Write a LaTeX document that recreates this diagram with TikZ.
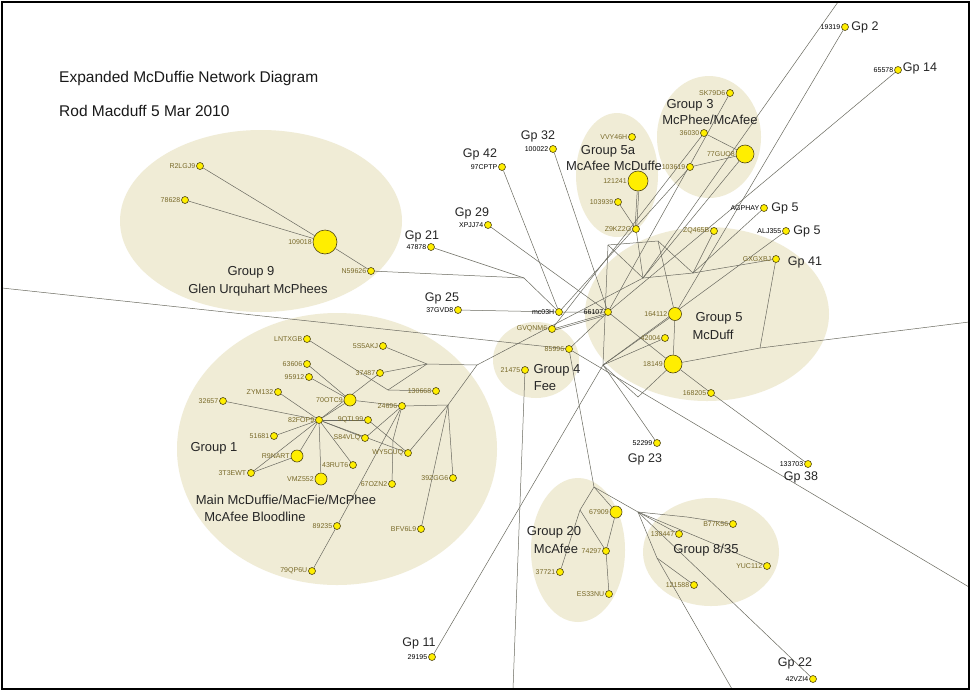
\documentclass[tikz,border=0pt]{standalone}
\usepackage{fontspec}
\setmainfont{Liberation Sans}
\pgfdeclarelayer{bg}
\pgfdeclarelayer{edges}
\pgfsetlayers{bg,edges,main}
\definecolor{grp}{RGB}{240,236,214}
\definecolor{ln}{RGB}{105,105,95}
\definecolor{olv}{RGB}{120,105,40}
\definecolor{nodefill}{RGB}{255,238,0}
\definecolor{nodeline}{RGB}{80,70,20}
\tikzset{
  nd/.style={circle,fill=nodefill,draw=nodeline,line width=0.6pt,inner sep=0pt,minimum size=#1},
  nd/.default=7pt,
  idl/.style={font=\fontsize{7}{8}\selectfont,text=olv,inner sep=0.8pt},
  idk/.style={font=\fontsize{7}{8}\selectfont,text=black,inner sep=0.8pt},
  glab/.style={font=\fontsize{13}{15}\selectfont,text=black!85,inner sep=0pt},
  gplab/.style={font=\fontsize{12.5}{14}\selectfont,text=black!85,inner sep=0pt},
  ttl/.style={font=\fontsize{15.5}{18}\selectfont,text=black!90,inner sep=0pt,anchor=west},
  edge/.style={draw=ln,line width=0.5pt},
}
\begin{document}
\begin{tikzpicture}[x=1pt,y=-1pt]
\useasboundingbox (0,0) rectangle (971,691);
% group ellipses
\begin{pgfonlayer}{bg}
\fill[white] (0,0) rectangle (971,691);
\fill[grp] (261,221) ellipse [x radius=141pt, y radius=91pt];
\fill[grp] (337,449) ellipse [x radius=160pt, y radius=136pt];
\fill[grp] (536,360) ellipse [x radius=43pt, y radius=38pt];
\fill[grp] (707,314) ellipse [x radius=122pt, y radius=87pt];
\fill[grp] (617,175) ellipse [x radius=41pt, y radius=62pt];
\fill[grp] (709,137) ellipse [x radius=52pt, y radius=61pt];
\fill[grp] (578,550) ellipse [x radius=47pt, y radius=72pt];
\fill[grp] (711,552) ellipse [x radius=68pt, y radius=54pt];
\end{pgfonlayer}
% titles
\node[ttl] (t1) at (59,78) {Expanded McDuffie Network Diagram};
\node[ttl] (t2) at (59,111) {Rod Macduff 5 Mar 2010};
% group labels
\node[glab] (g9a) at (251,272) {Group 9};
\node[glab] (g9b) at (258,290) {Glen Urquhart McPhees};
\node[glab] (g1a) at (214,448) {Group 1};
\node[glab] (g1b) at (286,500) {Main McDuffie/MacFie/McPhee};
\node[glab] (g1c) at (255,517) {McAfee Bloodline};
\node[glab] (g4a) at (557,370) {Group 4};
\node[glab] (g4b) at (545,386) {Fee};
\node[glab] (g5aa) at (608,151) {Group 5a};
\node[glab] (g5ab) at (614,166) {McAfee McDuffe};
\node[glab] (g3a) at (690,105) {Group 3};
\node[glab] (g3b) at (710,120) {McPhee/McAfee};
\node[glab] (g5a) at (719,318) {Group 5};
\node[glab] (g5b) at (713,335) {McDuff};
\node[glab] (g20a) at (554,532) {Group 20};
\node[glab] (g20b) at (556,549) {McAfee};
\node[glab] (g835) at (706,550) {Group 8/35};
% Gp labels
\node[gplab] (gp42) at (480,154) {Gp 42};
\node[gplab] (gp32) at (538,136) {Gp 32};
\node[gplab] (gp29) at (472,213) {Gp 29};
\node[gplab] (gp21) at (422,236) {Gp 21};
\node[gplab] (gp25) at (442,298) {Gp 25};
\node[gplab] (gp2) at (865,27) {Gp 2};
\node[gplab] (gp14) at (920,68) {Gp 14};
\node[gplab] (gp5x) at (785,208) {Gp 5};
\node[gplab] (gp5y) at (807,231) {Gp 5};
\node[gplab] (gp41) at (805,262) {Gp 41};
\node[gplab] (gp23) at (645,459) {Gp 23};
\node[gplab] (gp38) at (801,477) {Gp 38};
\node[gplab] (gp11) at (419,643) {Gp 11};
\node[gplab] (gp22) at (795,663) {Gp 22};
% nodes: group 9
\node[nd=24pt,label={[idl]left:109018}] (n109018) at (325,242) {};
\node[nd,label={[idl]left:R2LGJ9}] (nR2LGJ9) at (200,166) {};
\node[nd,label={[idl]left:78628}] (n78628) at (185,200) {};
\node[nd,label={[idl]left:N59626}] (nN59626) at (371,271) {};
% group 1
\node[nd,label={[idl]left:LNTXGB}] (nLNTXGB) at (307,339) {};
\node[nd,label={[idl]left:63606}] (n63606) at (307,364) {};
\node[nd,label={[idl]left:95912}] (n95912) at (309,377) {};
\node[nd,label={[idl]left:ZYM132}] (nZYM132) at (278,392) {};
\node[nd,label={[idl]left:32657}] (n32657) at (223,401) {};
\node[nd,label={[idl]left:82FOP9}] (n82FOP9) at (319,420) {};
\node[nd,label={[idl]left:51681}] (n51681) at (274,436) {};
\node[nd=12pt,label={[idl]left:R9NART}] (nR9NART) at (297,456) {};
\node[nd=12pt,label={[idl]left:70OTC9}] (n70OTC9) at (350,400) {};
\node[nd,label={[idl]left:5S5AKJ}] (n5S5AKJ) at (383,346) {};
\node[nd,label={[idl]left:37487}] (n37487) at (380,373) {};
\node[nd,label={[idl]left:130668}] (n130668) at (436,391) {};
\node[nd,label={[idl]left:24696}] (n24696) at (402,406) {};
\node[nd,label={[idl]left:9QTL99}] (n9QTL99) at (368,420) {};
\node[nd,label={[idl]left:S84VLQ}] (nS84VLQ) at (365,438) {};
\node[nd,label={[idl]left:WY5CUQ}] (nWY5CUQ) at (408,453) {};
\node[nd,label={[idl]left:3T3EWT}] (n3T3EWT) at (251,473) {};
\node[nd=12pt,label={[idl]left:VMZ552}] (nVMZ552) at (321,479) {};
\node[nd,label={[idl]left:43RUT6}] (n43RUT6) at (353,465) {};
\node[nd,label={[idl]left:67OZN2}] (n67OZN2) at (392,484) {};
\node[nd,label={[idl]left:39ZGG6}] (n39ZGG6) at (453,478) {};
\node[nd,label={[idl]left:89235}] (n89235) at (337,526) {};
\node[nd,label={[idl]left:BFV6L9}] (nBFV6L9) at (421,529) {};
\node[nd,label={[idl]left:79QP6U}] (n79QP6U) at (312,571) {};
% centre
\node[nd,label={[idk]left:mc03H}] (nmc03H) at (559,312) {};
\node[nd,label={[idk]left:66107}] (n66107) at (608,312) {};
\node[nd,label={[idl]left:GVQNM6}] (nGVQNM6) at (552,329) {};
\node[nd,label={[idl]left:85996}] (n85996) at (569,349) {};
\node[nd,label={[idl]left:21475}] (n21475) at (525,370) {};
\node[nd,label={[idk]left:37GVD8}] (n37GVD8) at (458,310) {};
\node[nd,label={[idk]left:47878}] (n47878) at (431,247) {};
\node[nd,label={[idk]left:XPJJ74}] (nXPJJ74) at (488,225) {};
\node[nd,label={[idk]left:97CPTP}] (n97CPTP) at (502,167) {};
\node[nd,label={[idk]left:100022}] (n100022) at (553,149) {};
% group 5a and 3
\node[nd,label={[idl]left:VVY46H}] (nVVY46H) at (632,137) {};
\node[nd=20pt,label={[idl]left:121241}] (n121241) at (638,181) {};
\node[nd,label={[idl]left:103939}] (n103939) at (618,202) {};
\node[nd,label={[idl]left:Z9KZ2G}] (nZ9KZ2G) at (636,229) {};
\node[nd,label={[idl]left:SK79D6}] (nSK79D6) at (730,93) {};
\node[nd,label={[idl]left:36030}] (n36030) at (704,133) {};
\node[nd=18pt,label={[idl]left:77GUO8}] (n77GUO8) at (745,154) {};
\node[nd,label={[idl]left:103619}] (n103619) at (690,167) {};
\node[nd,label={[idk]left:AGPHAY}] (nAGPHAY) at (764,208) {};
\node[nd,label={[idk]left:ALJ355}] (nALJ355) at (786,231) {};
\node[nd,label={[idk]left:19319}] (n19319) at (845,27) {};
\node[nd,label={[idk]left:65578}] (n65578) at (898,70) {};
% group 5
\node[nd,label={[idl]left:ZQ465B}] (nZQ465B) at (714,231) {};
\node[nd,label={[idl]left:GXGXBJ}] (nGXGXBJ) at (776,259) {};
\node[nd=13pt,label={[idl]left:164112}] (n164112) at (675,314) {};
\node[nd,label={[idl]left:42004}] (n42004) at (665,338) {};
\node[nd=18pt,label={[idl]left:18149}] (n18149) at (673,364) {};
\node[nd,label={[idl]left:168205}] (n168205) at (711,393) {};
\node[nd,label={[idk]left:52299}] (n52299) at (657,443) {};
\node[nd,label={[idk]left:133703}] (n133703) at (808,464) {};
% group 20 and 8/35
\node[nd=12pt,label={[idl]left:67909}] (n67909) at (616,512) {};
\node[nd,label={[idl]left:74297}] (n74297) at (606,551) {};
\node[nd,label={[idl]left:37721}] (n37721) at (560,572) {};
\node[nd,label={[idl]left:ES33NU}] (nES33NU) at (609,594) {};
\node[nd,label={[idl]left:B77K56}] (nB77K56) at (733,524) {};
\node[nd,label={[idl]left:130447}] (n130447) at (679,534) {};
\node[nd,label={[idl]left:YUC112}] (nYUC112) at (767,566) {};
\node[nd,label={[idl]left:121588}] (n121588) at (694,585) {};
\node[nd,label={[idk]left:29195}] (n29195) at (432,657) {};
\node[nd,label={[idk]left:42VZI4}] (n42VZI4) at (813,679) {};
% junctions and frame points
\coordinate (J1) at (388,390);
\coordinate (J2) at (427,364);
\coordinate (J3) at (477,365);
\coordinate (J4) at (448,405);
\coordinate (J67) at (393,440);
\coordinate (JH) at (524,278);
\coordinate (JA) at (608,245);
\coordinate (JB) at (658,241);
\coordinate (JC) at (643,278);
\coordinate (JD) at (693,273);
\coordinate (JE) at (760,348);
\coordinate (JF) at (638,397);
\coordinate (JG) at (603,365);
\coordinate (J20) at (594,487);
\coordinate (J20a) at (580,510);
\coordinate (J8) at (638,512);
\coordinate (J8a) at (687,517);
\coordinate (J8b) at (657,558);
\coordinate (FL) at (2,288);
\coordinate (FR1) at (969,587);
\coordinate (FR2) at (969,322);
\coordinate (FT) at (838,2);
\coordinate (FB1) at (513,689);
\coordinate (FB2) at (732,689);
\begin{pgfonlayer}{edges}
% group 9
\draw[edge] (nR2LGJ9) -- (n109018);
\draw[edge] (n78628) -- (n109018);
\draw[edge] (n109018) -- (nN59626);
\draw[edge] (nN59626) -- (JH);
\draw[edge] (n47878) -- (JH) -- (nmc03H);
% hub
\draw[edge] (n37GVD8) -- (nmc03H) -- (n66107);
\draw[edge] ([yshift=-0.8pt]nGVQNM6.east) -- ([yshift=-0.8pt]n66107.south west);
\draw[edge] ([yshift=0.8pt]nGVQNM6.east) -- ([yshift=0.8pt]n66107.south west);
\draw[edge] (n85996) -- (n66107);
\draw[edge] (FL) -- (n85996) -- (FR1);
\draw[edge] (n85996) -- (J20);
\draw[edge] (n97CPTP) -- (nmc03H);
\draw[edge] (n100022) -- (n66107);
\draw[edge] (nXPJJ74) -- (n66107);
\draw[edge] (n21475) -- (FB1);
\draw[edge] (n65578) -- (n66107);
\draw[edge] (nSK79D6) -- (n66107);
\draw[edge] (n36030) -- (nGVQNM6);
\draw[edge] (n36030) -- (n77GUO8);
\draw[edge] (n103619) -- (n77GUO8);
\draw[edge] (n103619) -- (nmc03H);
\draw[edge] (n77GUO8) -- (JC);
% group 5a
\draw[edge] ([xshift=-0.8pt]n121241.south) -- ([xshift=-0.8pt]nZ9KZ2G.north);
\draw[edge] ([xshift=0.8pt]n121241.south) -- ([xshift=0.8pt]nZ9KZ2G.north);
\draw[edge] (n103939) -- (nZ9KZ2G);
\draw[edge] (nZ9KZ2G) -- (JC);
% group 5
\draw[edge] (JA) -- (JB) -- (JD);
\draw[edge] (JA) -- (JG);
\draw[edge] (JA) -- (JC);
\draw[edge] (JB) -- (n164112);
\draw[edge] (JC) -- (JD);
\draw[edge] (JD) -- (nZQ465B);
\draw[edge] (JD) -- (nGXGXBJ) -- (JE);
\draw[edge] (JE) -- (n18149);
\draw[edge] (JE) -- (FR2);
\draw[edge] (n66107) -- (n18149) -- (n168205) -- (n133703);
\draw[edge] (n164112) -- (n18149);
\draw[edge] (n164112) -- (JG);
\draw[edge] (JG) -- (n42004);
\draw[edge] (n18149) -- (JF) -- (JG);
\draw[edge] (n52299) -- (JG);
\draw[edge] (n29195) -- (JG);
\draw[edge] (FT) -- (JC);
\draw[edge] (n19319) -- (n164112);
\draw[edge] (nAGPHAY) -- (JD);
\draw[edge] (nALJ355) -- (JG);
\draw[edge] (J3) -- (JC);
% group 20
\draw[edge] (J20) -- (n67909) -- (n74297) -- (nES33NU);
\draw[edge] (J20) -- (J20a) -- (n37721);
\draw[edge] (J20a) -- (n74297);
\draw[edge] (J20) -- (J8);
% group 8/35
\draw[edge] (J8) -- (J8a) -- (nB77K56);
\draw[edge] (J8) -- (nYUC112);
\draw[edge] (J8) -- (n130447);
\draw[edge] (J8) -- (J8b) -- (FB2);
\draw[edge] (J8b) -- (n121588);
\draw[edge] (J8) -- (n42VZI4);
% group 1
\draw[edge] (nLNTXGB) -- (J1) -- (n130668);
\draw[edge] (n63606) -- (n70OTC9);
\draw[edge] (n95912) -- (n70OTC9);
\draw[edge] (n5S5AKJ) -- (J2);
\draw[edge] (n37487) -- (J2);
\draw[edge] (n37487) -- (n82FOP9);
\draw[edge] (J2) -- (J1);
\draw[edge] (J2) -- (J3) -- (J4);
\draw[edge] (n70OTC9) -- (n24696);
\draw[edge] (n82FOP9) -- (n70OTC9);
\draw[edge] (n82FOP9) -- (n9QTL99);
\draw[edge] (n82FOP9) -- (nZYM132);
\draw[edge] (n82FOP9) -- (n32657);
\draw[edge] (n82FOP9) -- (n51681);
\draw[edge] (n82FOP9) -- (nR9NART);
\draw[edge] (n82FOP9) -- (nVMZ552);
\draw[edge] (n82FOP9) -- (nS84VLQ);
\draw[edge] (n82FOP9) -- (nWY5CUQ);
\draw[edge] (n82FOP9) -- (n43RUT6);
\draw[edge] (n3T3EWT) -- (n82FOP9);
\draw[edge] (n3T3EWT) -- (nR9NART);
\draw[edge] (n24696) -- (nS84VLQ);
\draw[edge] (n24696) -- (J4);
\draw[edge] (n24696) -- (J67) -- (n67OZN2);
\draw[edge] (n24696) -- (n89235) -- (n79QP6U);
\draw[edge] (J4) -- (nWY5CUQ);
\draw[edge] (J4) -- (n39ZGG6);
\draw[edge] (J4) -- (nBFV6L9);
\draw[edge] (n9QTL99) -- (nWY5CUQ);
\end{pgfonlayer}
% frame
\draw[line width=2.5pt] (2,2) rectangle (969,689);
\end{tikzpicture}
\end{document}
